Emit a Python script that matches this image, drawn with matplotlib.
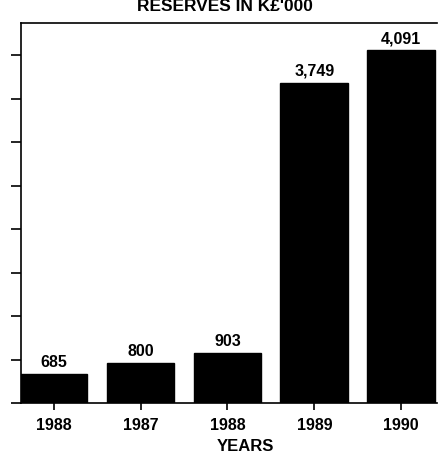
import numpy as np
import matplotlib
matplotlib.use("Agg")
import matplotlib.pyplot as plt

plt.rcParams['font.family'] = ['Liberation Sans', 'DejaVu Sans']

# data
years = ['1988', '1987', '1988', '1989', '1990']
reserves = [685, 800, 903, 3749, 4091]
value_labels = ['685', '800', '903', '3,749', '4,091']

fig = plt.figure(figsize=(4.42, 4.53), dpi=100)
ax = fig.add_axes([0.0475, 0.110, 0.941, 0.839])

x = np.arange(len(years))
ax.bar(x, reserves, width=0.78, color='black', edgecolor='black')

for xi, v, lab in zip(x, reserves, value_labels):
    ax.annotate(lab, (xi, v), xytext=(0, 3), textcoords='offset points',
                ha='center', va='bottom', fontsize=11.5, fontweight='bold')

# axis starts well above zero in the original
ax.set_ylim(380, 4376)
ax.set_xlim(-0.375, 4.41)
ax.set_yticks(380 + 457 * np.arange(9))
ax.set_yticklabels([])
ax.set_xticks(x)
ax.set_xticklabels(years, fontsize=11.5, fontweight='bold')
ax.tick_params(axis='x', direction='out', length=5, width=1.2, pad=6)
ax.tick_params(axis='y', direction='out', length=7, width=1.2)

ax.spines['right'].set_visible(False)
for s in ['left', 'top', 'bottom']:
    ax.spines[s].set_linewidth(1.2)

ax.set_xlabel('YEARS', fontsize=12, fontweight='bold', labelpad=0)
ax.xaxis.set_label_coords(0.54, -0.095)
fig.text(0.51, 0.976, "RESERVES IN K£'000", ha='center', va='baseline',
         fontsize=12.5, fontweight='bold')

plt.savefig('out.png', dpi=100)
